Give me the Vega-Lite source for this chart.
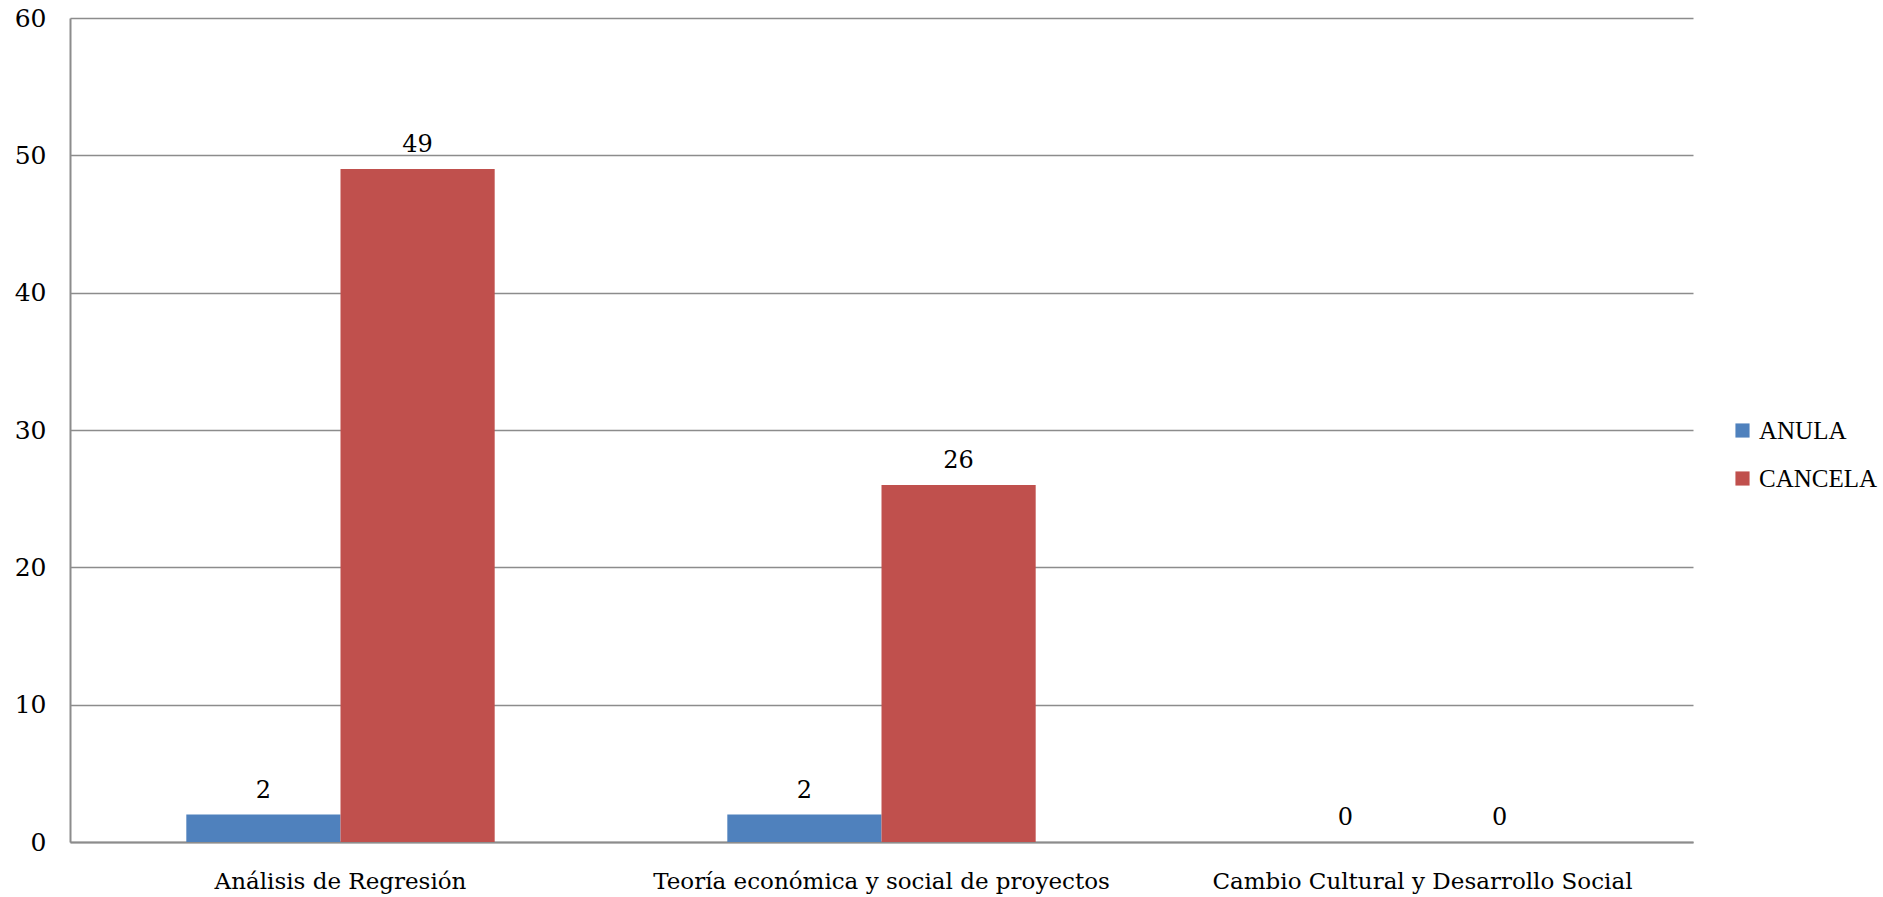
{
  "$schema": "https://vega.github.io/schema/vega-lite/v6.json",
  "autosize": {"type": "none"},
  "padding": {"left": 70, "top": 18, "right": 190, "bottom": 55},
  "width": 1623,
  "height": 824,
  "background": "white",
  "config": {"view": {"stroke": null}},
  "data": {"values": [
    {"materia": "Análisis de Regresión", "tipo": "ANULA", "valor": 2},
    {"materia": "Análisis de Regresión", "tipo": "CANCELA", "valor": 49},
    {"materia": "Teoría económica y social de proyectos", "tipo": "ANULA", "valor": 2},
    {"materia": "Teoría económica y social de proyectos", "tipo": "CANCELA", "valor": 26},
    {"materia": "Cambio Cultural y Desarrollo Social", "tipo": "ANULA", "valor": 0},
    {"materia": "Cambio Cultural y Desarrollo Social", "tipo": "CANCELA", "valor": 0}
  ]},
  "encoding": {
    "x": {"field": "materia", "type": "nominal", "sort": null,
      "scale": {"paddingInner": 0.43, "paddingOuter": 0.215},
      "axis": {"title": null, "labelAngle": 0, "ticks": false, "domainColor": "#8c8c8c", "domainWidth": 2,
        "labelFont": "DejaVu Serif", "labelFontSize": 23, "labelLimit": 0, "labelColor": "black", "labelPadding": 28, "grid": false}},
    "xOffset": {"field": "tipo", "type": "nominal", "sort": ["ANULA", "CANCELA"]},
    "y": {"field": "valor", "type": "quantitative",
      "scale": {"domain": [0, 60]},
      "axis": {"title": null, "values": [0, 10, 20, 30, 40, 50, 60], "ticks": false, "domainColor": "#8c8c8c", "domainWidth": 2,
        "gridColor": "#8c8c8c", "gridWidth": 1.5, "labelFont": "DejaVu Serif", "labelFontSize": 25, "labelColor": "black", "labelPadding": 24}}
  },
  "layer": [
    {"mark": {"type": "bar"},
      "encoding": {
        "color": {"field": "tipo", "type": "nominal",
          "scale": {"domain": ["ANULA", "CANCELA"], "range": ["#4F81BD", "#C0504D"]},
          "legend": {"title": null, "orient": "none", "legendX": 1660, "legendY": 400,
            "symbolType": "square", "symbolSize": 200, "symbolStrokeWidth": 0, "rowPadding": 22,
            "labelFont": "Liberation Serif", "labelFontSize": 25, "labelColor": "black", "labelOffset": 4}}
      }},
    {"mark": {"type": "text", "baseline": "middle", "dy": -24, "font": "DejaVu Serif", "fontSize": 24, "color": "black"},
      "encoding": {"text": {"field": "valor", "type": "quantitative"}}}
  ]
}
